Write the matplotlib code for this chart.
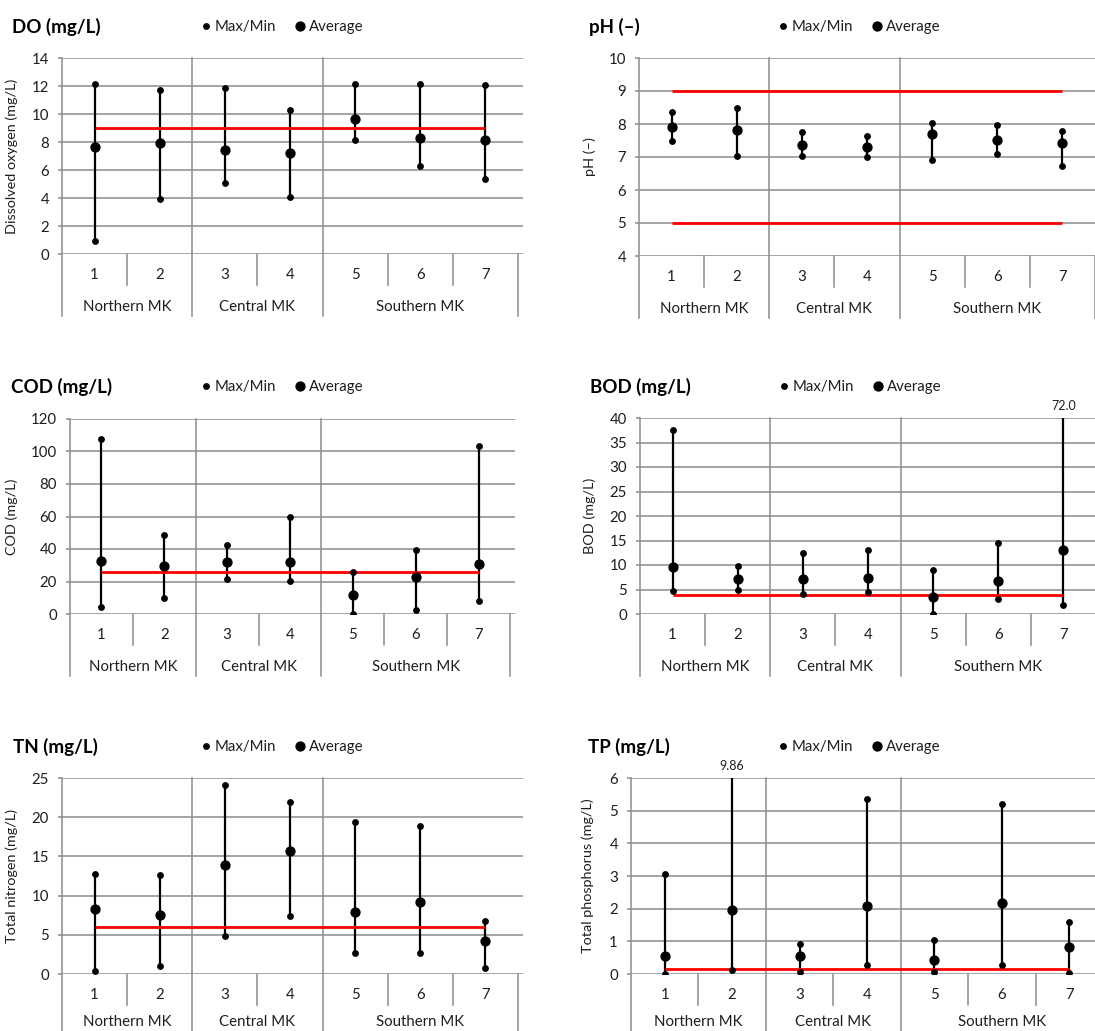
import matplotlib
matplotlib.use('Agg')
import matplotlib.pyplot as plt
import matplotlib.transforms as mtrans
import numpy as np

plt.rcParams['font.family'] = ['Lato', 'DejaVu Sans']

# ---------------- data ----------------
sites = [1, 2, 3, 4, 5, 6, 7]
site_labels = ['1', '2', '3', '4', '5', '6', '7']
groups = ['Northern MK', 'Central MK', 'Southern MK']
group_sizes = [2, 2, 3]
legend_labels = ['Max/Min', 'Average']

do_max = [12.15, 11.75, 11.87, 10.32, 12.15, 12.15, 12.08]
do_min = [0.95, 3.96, 5.08, 4.06, 8.12, 6.26, 5.34]
do_avg = [7.64, 7.90, 7.40, 7.19, 9.66, 8.30, 8.12]
do_std = [9.0]

ph_max = [8.36, 8.48, 7.75, 7.64, 8.03, 7.96, 7.78]
ph_min = [7.48, 7.02, 7.03, 6.99, 6.91, 7.09, 6.72]
ph_avg = [7.91, 7.82, 7.37, 7.30, 7.70, 7.52, 7.41]
ph_std = [9.0, 5.0]

cod_max = [107.7, 48.5, 42.4, 59.6, 25.6, 39.1, 103.4]
cod_min = [4.3, 10.0, 21.3, 20.1, 0.2, 2.7, 7.8]
cod_avg = [32.4, 29.5, 31.9, 31.9, 11.5, 22.5, 30.7]
cod_std = [26.0]

bod_max = [37.5, 9.8, 12.5, 13.0, 9.05, 14.4, 72.0]
bod_min = [4.6, 5.0, 4.0, 4.5, 0.0, 3.06, 1.9]
bod_avg = [9.66, 7.14, 7.14, 7.28, 3.54, 6.67, 13.0]
bod_std = [3.8]

tn_max = [12.8, 12.67, 24.07, 21.9, 19.36, 18.94, 6.78]
tn_min = [0.42, 1.02, 4.87, 7.46, 2.67, 2.67, 0.72]
tn_avg = [8.35, 7.54, 13.94, 15.72, 7.88, 9.24, 4.24]
tn_std = [6.0]

tp_max = [3.06, 9.86, 0.91, 5.37, 1.03, 5.20, 1.59]
tp_min = [0.01, 0.13, 0.05, 0.29, 0.05, 0.27, 0.03]
tp_avg = [0.55, 1.97, 0.55, 2.08, 0.44, 2.16, 0.84]
tp_std = [0.15]

titles = ['DO (mg/L)', 'pH (–)', 'COD (mg/L)', 'BOD (mg/L)', 'TN (mg/L)', 'TP (mg/L)']
ylabels = ['Dissolved oxygen (mg/L)', 'pH (–)', 'COD (mg/L)', 'BOD (mg/L)',
           'Total nitrogen (mg/L)', 'Total phosphorus (mg/L)']
yranges = [(0, 14, 2), (4, 10, 1), (0, 120, 20), (0, 40, 5), (0, 25, 5), (0, 6, 1)]
overflow_fmt = ['{:.1f}', '{:.1f}', '{:.1f}', '{:.1f}', '{:.1f}', '{:.2f}']

series = [
    (do_max, do_min, do_avg, do_std),
    (ph_max, ph_min, ph_avg, ph_std),
    (cod_max, cod_min, cod_avg, cod_std),
    (bod_max, bod_min, bod_avg, bod_std),
    (tn_max, tn_min, tn_avg, tn_std),
    (tp_max, tp_min, tp_avg, tp_std),
]

# ---------------- layout (pixels) ----------------
W, H = 1095, 1031
# left, right, top, bottom of plotting area
boxes = [(62, 523, 58, 254), (639, 1100, 58, 256),
         (70, 515, 419, 614), (640, 1101, 418, 614),
         (62, 523, 778, 974), (631, 1108, 778, 974)]
title_pos = [(12, 27), (589, 27), (11, 387), (590, 387), (13, 747), (588, 747)]
legend_pos = [(201, 27), (778, 27), (201, 387), (779, 387), (201, 747), (778, 747)]
ylabel_x = [18, 596, 17.5, 596, 18, 594.5]
group_label_px = [53, 53, 53, 53, 48, 48]

GRID = '#8c8c8c'
TXT = '#1e1e1e'
TICK_FS = 10.8
PX = 72.0 / 100.0  # points per pixel at dpi 100

fig = plt.figure(figsize=(W / 100, H / 100), dpi=100)
fig.patch.set_facecolor('white')

for i in range(6):
    l, r, t, b = boxes[i]
    ax = fig.add_axes([l / W, 1 - b / H, (r - l) / W, (b - t) / H])
    hpx = b - t
    wpx = r - l
    ymin, ymax, step = yranges[i]
    ncat = len(sites)
    ext = 5.0 / (wpx / ncat)
    ax.set_xlim(0.5, ncat + 0.5 + ext)
    ax.set_ylim(ymin, ymax)
    ax.set_yticks(np.arange(ymin, ymax + step / 2, step))
    ax.set_xticks([])
    for s in ['top', 'right', 'bottom', 'left']:
        ax.spines[s].set_visible(False)
    ax.grid(axis='y', color=GRID, lw=1.1)
    ax.set_axisbelow(True)
    ax.tick_params(axis='y', length=4 * PX, width=1.1, color=GRID, pad=9 * PX,
                   labelsize=TICK_FS, labelcolor=TXT)
    ax.patch.set_alpha(0)

    trans = mtrans.blended_transform_factory(ax.transData, ax.transAxes)
    fy = lambda px: -px / hpx
    # group boundaries
    bounds = [0.5]
    acc = 0.5
    for g in group_sizes:
        acc += g
        bounds.append(acc)
    for j, xb in enumerate(bounds):
        top = 1.0 if j < len(bounds) - 1 else 0.0
        ax.plot([xb, xb], [top, fy(62)], transform=trans, color=GRID, lw=1.1,
                clip_on=False, zorder=1)
    # site dividers
    for xs in np.arange(1.5, ncat, 1.0):
        if xs in bounds:
            continue
        ax.plot([xs, xs], [0, fy(31)], transform=trans, color=GRID, lw=1.1,
                clip_on=False, zorder=1)
    for s, lab in zip(sites, site_labels):
        ax.text(s, fy(21), lab, transform=trans, ha='center', va='center',
                fontsize=TICK_FS, color=TXT)
    acc = 0.5
    for g, gs in zip(groups, group_sizes):
        ax.text(acc + gs / 2, fy(group_label_px[i]), g, transform=trans,
                ha='center', va='center', fontsize=TICK_FS, color=TXT)
        acc += gs

    mx, mn, av, std = series[i]
    ax.vlines(sites, mn, mx, color='black', lw=1.6, zorder=3)
    for sv in std:
        ax.plot(sites, [sv] * len(sites), color='#ff0000', lw=2.0, zorder=4,
                solid_capstyle='butt')
    hmax, = ax.plot(sites, mx, 'o', ls='none', color='black', ms=3.9, zorder=5)
    ax.plot(sites, mn, 'o', ls='none', color='black', ms=3.9, zorder=5)
    havg, = ax.plot(sites, av, 'o', ls='none', color='black', ms=6.4, zorder=6)
    for s, v in zip(sites, mx):
        if v > ymax:
            ax.annotate(overflow_fmt[i].format(v), (s, ymax), xytext=(0, 4),
                        textcoords='offset points', ha='center', va='bottom',
                        fontsize=9, color=TXT, annotation_clip=False)

    ax.set_ylabel(ylabels[i], fontsize=10.4, color=TXT)
    ax.yaxis.set_label_coords(ylabel_x[i] / W, 1 - (t + b) / 2 / H,
                              transform=fig.transFigure)

    tx, ty = title_pos[i]
    fig.text(tx / W, 1 - ty / H, titles[i], fontsize=13.5, fontweight='bold',
             ha='left', va='center', color='black')
    lx, ly = legend_pos[i]
    ax.legend([hmax, havg], legend_labels, loc='center left',
              bbox_to_anchor=(lx / W, 1 - ly / H), bbox_transform=fig.transFigure,
              ncol=2, frameon=False, handlelength=0.6, handletextpad=0.3,
              columnspacing=1.3, borderpad=0, borderaxespad=0,
              fontsize=TICK_FS, labelcolor=TXT)

fig.savefig('out.png', dpi=100, facecolor='white')
